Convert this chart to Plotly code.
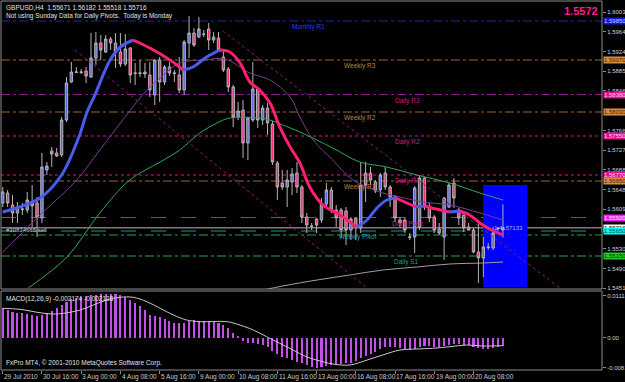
import plotly.graph_objects as go

# ---------------- data ----------------
date_bars = [0, 8, 16, 24, 32, 40, 48, 56, 64, 72, 80, 88, 96]
date_labels = ["29 Jul 2010", "30 Jul 16:00", "3 Aug 00:00", "4 Aug 08:00", "5 Aug 16:00",
               "9 Aug 00:00", "10 Aug 08:00", "11 Aug 16:00", "13 Aug 00:00", "16 Aug 08:00",
               "17 Aug 16:00", "19 Aug 00:00", "20 Aug 08:00"]

opens = [1.5621, 1.5641, 1.5617, 1.5601, 1.5608, 1.5607, 1.5621, 1.5621, 1.5591, 1.5687,
         1.5725, 1.5721, 1.5717, 1.5787, 1.5863, 1.5882, 1.5882, 1.5885, 1.5873, 1.5911,
         1.5941, 1.5923, 1.5949, 1.5941, 1.5923, 1.5899, 1.5931, 1.5880, 1.5880, 1.5883,
         1.5877, 1.5837, 1.5907, 1.5863, 1.5893, 1.5880, 1.5877, 1.5847, 1.5941, 1.5961,
         1.5953, 1.5958, 1.5969, 1.5947, 1.5951, 1.5913, 1.5889, 1.5853, 1.5793, 1.5807,
         1.5741, 1.5787, 1.5849, 1.5787, 1.5811, 1.5779, 1.5701, 1.5661, 1.5653, 1.5663,
         1.5681, 1.5653, 1.5593, 1.5574, 1.5589, 1.5587, 1.5619, 1.5647, 1.5607, 1.5607,
         1.5605, 1.5567, 1.5591, 1.5571, 1.5681, 1.5681, 1.5663, 1.5647, 1.5681, 1.5653,
         1.5633, 1.5587, 1.5587, 1.5552, 1.5553, 1.5573, 1.5671, 1.5611, 1.5593, 1.5569,
         1.5553, 1.5613, 1.5661, 1.5607, 1.5597, 1.5573, 1.5567, 1.5523, 1.5511, 1.5532,
         1.5531, 1.5570, 1.55671]
highs = [1.5653, 1.5647, 1.5637, 1.5623, 1.5621, 1.5643, 1.5657, 1.5633, 1.5721, 1.5703,
         1.5733, 1.5731, 1.5793, 1.5873, 1.5903, 1.5893, 1.5889, 1.5893, 1.5961, 1.5963,
         1.5957, 1.5957, 1.5953, 1.5961, 1.5961, 1.5959, 1.5933, 1.5901, 1.5907, 1.5901,
         1.5903, 1.5907, 1.5913, 1.5897, 1.5903, 1.5887, 1.5913, 1.5947, 1.5995, 1.5971,
         1.5993, 1.5967, 1.5981, 1.5963, 1.5963, 1.5927, 1.5893, 1.5857, 1.5823, 1.5827,
         1.5793, 1.5903, 1.5851, 1.5817, 1.5821, 1.5785, 1.5705, 1.5687, 1.5687, 1.5691,
         1.5703, 1.5657, 1.5601, 1.5581, 1.5591, 1.5631, 1.5661, 1.5653, 1.5617, 1.5611,
         1.5613, 1.5593, 1.5593, 1.5703, 1.5703, 1.5693, 1.5667, 1.5681, 1.5693, 1.5657,
         1.5637, 1.5593, 1.5591, 1.5561, 1.5655, 1.5677, 1.5673, 1.5621, 1.5597, 1.5581,
         1.5633, 1.5661, 1.5671, 1.5611, 1.5601, 1.5581, 1.5571, 1.5581, 1.5553, 1.5541,
         1.5573, 1.5573, 1.56182]
lows = [1.5613, 1.5613, 1.5581, 1.5581, 1.5597, 1.5601, 1.5573, 1.5553, 1.5581, 1.5677,
        1.5693, 1.5713, 1.5713, 1.5783, 1.5861, 1.5881, 1.5879, 1.5861, 1.5871, 1.5897,
        1.5907, 1.5921, 1.5927, 1.5891, 1.5893, 1.5895, 1.5861, 1.5857, 1.5873, 1.5871,
        1.5833, 1.5817, 1.5823, 1.5857, 1.5875, 1.5863, 1.5841, 1.5837, 1.5911, 1.5933,
        1.5951, 1.5953, 1.5927, 1.5941, 1.5923, 1.5883, 1.5843, 1.5773, 1.5787, 1.5711,
        1.5707, 1.5783, 1.5771, 1.5777, 1.5757, 1.5697, 1.5627, 1.5647, 1.5613, 1.5637,
        1.5641, 1.5581, 1.5561, 1.5567, 1.5561, 1.5581, 1.5613, 1.5601, 1.5573, 1.5551,
        1.5537, 1.5547, 1.5547, 1.5561, 1.5623, 1.5657, 1.5641, 1.5633, 1.5647, 1.5613,
        1.5583, 1.5573, 1.5561, 1.5547, 1.5521, 1.5567, 1.5607, 1.5583, 1.5561, 1.5557,
        1.5507, 1.5611, 1.5611, 1.5577, 1.5563, 1.5565, 1.5521, 1.5461, 1.5473, 1.5527,
        1.5527, 1.5565, 1.55518]
closes = [1.5643, 1.5621, 1.5601, 1.5613, 1.5609, 1.5627, 1.5615, 1.5593, 1.5693, 1.5695,
          1.5719, 1.5715, 1.5787, 1.5861, 1.5883, 1.5883, 1.5883, 1.5875, 1.5911, 1.5941,
          1.5927, 1.5949, 1.5941, 1.5923, 1.5899, 1.5929, 1.5877, 1.5881, 1.5881, 1.5879,
          1.5847, 1.5907, 1.5863, 1.5893, 1.5881, 1.5881, 1.5847, 1.5943, 1.5961, 1.5937,
          1.5969, 1.5959, 1.5947, 1.5953, 1.5927, 1.5887, 1.5853, 1.5793, 1.5805, 1.5741,
          1.5791, 1.5849, 1.5787, 1.5811, 1.5781, 1.5703, 1.5653, 1.5653, 1.5667, 1.5679,
          1.5653, 1.5593, 1.5577, 1.5575, 1.5577, 1.5619, 1.5647, 1.5607, 1.5591, 1.5567,
          1.5567, 1.5589, 1.5573, 1.5657, 1.5657, 1.5667, 1.5645, 1.5677, 1.5653, 1.5633,
          1.5591, 1.5581, 1.5567, 1.5553, 1.5651, 1.5671, 1.5613, 1.5591, 1.5567, 1.5561,
          1.5631, 1.5657, 1.5631, 1.5591, 1.5571, 1.5567, 1.5523, 1.5511, 1.5533, 1.5533,
          1.5561, 1.5571, 1.55716]

# thick coloured moving average (sampled points: bar index, price)
ma_fast_x = [0, 7.6, 12.0, 15.6, 17.2, 18.8, 21.9, 24.0, 26.6, 30.0, 34.1, 36.8, 38.8, 41.6,
             44.3, 46.3, 48.4, 50.4, 52.4, 54.5, 56.5, 58.6, 60.6, 62.6, 65.3, 68.8, 72.2,
             74.3, 76.3, 78.3, 80.2, 82.4, 84.4, 86.0, 87.5, 91.2, 93.2, 95.2, 97.3, 99.3, 102]
ma_fast_y = [1.5603, 1.5631, 1.5677, 1.5755, 1.5803, 1.5837, 1.5907, 1.5933, 1.5947, 1.5931,
             1.5907, 1.5887, 1.5893, 1.5913, 1.5927, 1.5923, 1.5901, 1.5863, 1.5847, 1.5821,
             1.5773, 1.5733, 1.5701, 1.5653, 1.5617, 1.5597, 1.5573, 1.5587, 1.5611, 1.5627,
             1.5631, 1.5621, 1.5613, 1.5615, 1.5611, 1.5603, 1.5605, 1.5597, 1.5581, 1.5569, 1.5557]

ma_purple_x = [0, 2.9, 7.6, 15.1, 19.8, 29.4, 32.1, 36.1, 41.2, 45.3, 50.4, 54.5, 58.6, 60.6,
               63.3, 67.3, 71.4, 77.5, 81.0, 85.7, 91.2, 97.3, 102]
ma_purple_y = [1.5523, 1.5551, 1.5597, 1.5667, 1.5727, 1.5847, 1.5871, 1.5901, 1.5907, 1.5909,
               1.5881, 1.5867, 1.5833, 1.5793, 1.5747, 1.5707, 1.5667, 1.5641, 1.5633, 1.5623,
               1.5617, 1.5601, 1.5587]

ma_green_x = [5.2, 13.1, 19.8, 25.9, 32.1, 36.1, 40.2, 43.7, 46.3, 52.4, 54.5, 57.1, 60.6,
              67.3, 72.8, 78.3, 84.4, 91.2, 97.3, 102]
ma_green_y = [1.5451, 1.5513, 1.5601, 1.5667, 1.5703, 1.5727, 1.5761, 1.5781, 1.5791, 1.5791,
              1.5787, 1.5777, 1.5763, 1.5731, 1.5703, 1.5693, 1.5677, 1.5661, 1.5641, 1.5627]

ma_gray_x = [53.1, 57.1, 64.1, 70.8, 77.5, 84.4, 91.2, 97.9, 102]
ma_gray_y = [1.5447, 1.5455, 1.5467, 1.5477, 1.5487, 1.5493, 1.5499, 1.5501, 1.5503]

# trend channel lines (start bar, start price, end bar, end price)
channel_lines = [(44.9, 1.5965, 113.6, 1.5451), (14.7, 1.5927, 74.3, 1.5451)]

# pivot levels
level_names = ["Monthly R1", "Weekly R3", "Daily R3", "Weekly R2", "Daily R2", "Daily R1",
               "Weekly R1", "Daily Pivot", "Weekly Pivot", "Daily S1"]
level_prices = [1.5985, 1.5907, 1.5838, 1.5803, 1.5755, 1.5677, 1.5665, 1.5592, 1.5565, 1.5515]
level_label_bar = [58.6, 69.2, 79.6, 69.2, 79.6, 79.6, 69.2, 79.0, 68.2, 79.4]

bid_price = 1.55716
order_price = 1.5557
order_text = "#30834665 sell"
box = (97.96, 107.0, 1.5453, 1.5657)
box_text = "1.4 .57133"

price_ticks = [1.6003, 1.5964, 1.5924, 1.5885, 1.5846, 1.5766, 1.5727, 1.5688, 1.5648,
               1.5609, 1.5530, 1.5490, 1.5451]

macd_hist = [0.00787, 0.00742, 0.00697, 0.00671, 0.00653, 0.00626, 0.00608, 0.00581, 0.00608, 0.00653,
             0.00724, 0.00787, 0.00876, 0.00966, 0.01028, 0.01055, 0.01100, 0.01126, 0.01144, 0.01144,
             0.01162, 0.01171, 0.01171, 0.01162, 0.01144, 0.01100, 0.01010, 0.00921, 0.00849, 0.00742,
             0.00608, 0.00581, 0.00563, 0.00492, 0.00447, 0.00402, 0.00384, 0.00402, 0.00456, 0.00474,
             0.00456, 0.00447, 0.00447, 0.00429, 0.00402, 0.00340, 0.00250, 0.00134, 0.00045, -0.00089,
             -0.00134, -0.00152, -0.00170, -0.00197, -0.00259, -0.00349, -0.00438, -0.00510, -0.00554, -0.00599,
             -0.00644, -0.00688, -0.00733, -0.00778, -0.00805, -0.00778, -0.00760, -0.00733, -0.00706, -0.00706,
             -0.00688, -0.00671, -0.00617, -0.00554, -0.00492, -0.00438, -0.00375, -0.00313, -0.00259, -0.00241,
             -0.00259, -0.00286, -0.00313, -0.00331, -0.00313, -0.00259, -0.00224, -0.00224, -0.00241, -0.00241,
             -0.00224, -0.00197, -0.00170, -0.00170, -0.00197, -0.00197, -0.00241, -0.00286, -0.00313, -0.00313,
             -0.00286, -0.00259, -0.002174]
signal_x = [0, 3.5, 7.6, 10.3, 12.4, 15.8, 18.5, 21.2, 23.9, 26.6, 29.4, 32.1, 34.8, 37.5, 40.2,
            45.7, 47.7, 51.1, 53.8, 56.5, 59.2, 61.9, 64.0, 67.3, 70.8, 74.3, 77.5, 81.0, 84.4,
            87.7, 91.2, 94.6, 97.9, 102]
signal_y = [0.00788, 0.00761, 0.00670, 0.00635, 0.00654, 0.00743, 0.00877, 0.01011, 0.01083, 0.01083,
            0.00965, 0.00788, 0.00609, 0.00475, 0.00430, 0.00430, 0.00367, 0.00206, 0.00027, -0.00150,
            -0.00330, -0.00509, -0.00598, -0.00705, -0.00732, -0.00598, -0.00464, -0.00330, -0.00303,
            -0.00284, -0.00241, -0.00196, -0.00223, -0.002128]

# ---------------- figure ----------------
FONT = "Liberation Sans"
bars = list(range(len(opens)))
fig = go.Figure()

fig.add_trace(go.Candlestick(
    x=bars, open=opens, high=highs, low=lows, close=closes,
    increasing=dict(line=dict(color="#b4b4b4", width=1), fillcolor="#5a6ae8"),
    decreasing=dict(line=dict(color="#b4b4b4", width=1), fillcolor="#f0307f"),
    whiskerwidth=0, showlegend=False, xaxis="x", yaxis="y"))

fig.add_trace(go.Scatter(x=ma_purple_x, y=ma_purple_y, mode="lines",
                         line=dict(color="#7a3c96", width=1, shape="spline"), showlegend=False))
fig.add_trace(go.Scatter(x=ma_green_x, y=ma_green_y, mode="lines",
                         line=dict(color="#2eaa55", width=1, shape="spline"), showlegend=False))
fig.add_trace(go.Scatter(x=ma_gray_x, y=ma_gray_y, mode="lines",
                         line=dict(color="#a0a0a0", width=1, shape="spline"), showlegend=False))

for x0, y0, x1, y1 in channel_lines:
    fig.add_trace(go.Scatter(x=[x0, x1], y=[y0, y1], mode="lines",
                             line=dict(color="#8c1c72", width=1, dash="dot"), showlegend=False))

# thick MA coloured by slope
seg_x, seg_y, seg_up = [ma_fast_x[0]], [ma_fast_y[0]], None
for k in range(1, len(ma_fast_x)):
    up = ma_fast_y[k] >= ma_fast_y[k - 1]
    if seg_up is not None and up != seg_up:
        fig.add_trace(go.Scatter(x=seg_x, y=seg_y, mode="lines", showlegend=False,
                                 line=dict(color="#4a5cf0" if seg_up else "#ff1e72", width=3, shape="spline")))
        seg_x, seg_y = [ma_fast_x[k - 1]], [ma_fast_y[k - 1]]
    seg_up = up
    seg_x.append(ma_fast_x[k])
    seg_y.append(ma_fast_y[k])
fig.add_trace(go.Scatter(x=seg_x, y=seg_y, mode="lines", showlegend=False,
                         line=dict(color="#4a5cf0" if seg_up else "#ff1e72", width=3, shape="spline")))

# MACD
fig.add_trace(go.Bar(x=bars, y=macd_hist, width=0.42, marker=dict(color="#c44ee8", line=dict(width=0)),
                     showlegend=False, xaxis="x", yaxis="y2"))
fig.add_trace(go.Scatter(x=signal_x, y=signal_y, mode="lines", line=dict(color="#c8c8c8", width=1, shape="spline"),
                         showlegend=False, xaxis="x", yaxis="y2"))

# ---------------- shapes ----------------
shapes = []
shapes.append(dict(type="rect", xref="x", yref="y", x0=box[0], x1=box[1], y0=box[2], y1=box[3],
                   fillcolor="#0000ff", line=dict(width=0), layer="below"))
level_style = {
    "Monthly R1": ("#2424a8", "dashdot"), "Weekly R3": ("#a0662c", "dashdot"),
    "Daily R3": ("#861d86", "dashdot"), "Weekly R2": ("#a0662c", "dashdot"),
    "Daily R2": ("#e0128a", "dot"), "Daily R1": ("#e0128a", "dot"),
    "Weekly R1": ("#a0662c", "dashdot"), "Daily Pivot": ("#b424b4", "longdash"),
    "Weekly Pivot": ("#2a8ca8", "longdash"), "Daily S1": ("#24a84a", "dashdot"),
}
for nm, p in zip(level_names, level_prices):
    c, d = level_style[nm]
    shapes.append(dict(type="line", xref="paper", yref="y", x0=0, x1=1, y0=p, y1=p,
                       line=dict(color=c, width=1, dash=d), layer="below"))
shapes.append(dict(type="line", xref="paper", yref="y", x0=0, x1=1, y0=bid_price, y1=bid_price,
                   line=dict(color="#7c7c7c", width=1.5), layer="below"))
shapes.append(dict(type="line", xref="paper", yref="y", x0=0, x1=1, y0=order_price, y1=order_price,
                   line=dict(color="#2aa03c", width=1, dash="dashdot"), layer="below"))
MAIN_BOT, MACD_TOP = 0.2195, 0.2141
shapes.append(dict(type="rect", xref="paper", yref="paper", x0=0, x1=1, y0=MAIN_BOT, y1=1,
                   line=dict(color="#8c8c8c", width=1)))
shapes.append(dict(type="rect", xref="paper", yref="paper", x0=0, x1=1, y0=0, y1=MACD_TOP,
                   line=dict(color="#8c8c8c", width=1)))

# ---------------- annotations ----------------
ann = []
label_color = {
    "Monthly R1": "#2a3cff", "Weekly R3": "#c08040", "Daily R3": "#d01c90", "Weekly R2": "#c08040",
    "Daily R2": "#d01c90", "Daily R1": "#d01c90", "Weekly R1": "#c08040", "Daily Pivot": "#d01c90",
    "Weekly Pivot": "#20a0a8", "Daily S1": "#20a080",
}
for nm, p, b in zip(level_names, level_prices, level_label_bar):
    ann.append(dict(x=b, y=p, xref="x", yref="y", text=nm, showarrow=False, xanchor="left", yanchor="top",
                    font=dict(family=FONT, size=6.5, color=label_color[nm])))

tag_style = {
    "Monthly R1": ("#0c18e6", "#c8d0ff"), "Weekly R3": ("#d98c3f", "#402000"), "Daily R3": ("#e0148c", "#ffd0f0"),
    "Weekly R2": ("#d98c3f", "#402000"), "Daily R2": ("#e0148c", "#ffd0f0"), "Daily R1": ("#e0148c", "#ffd0f0"),
    "Weekly R1": ("#d98c3f", "#402000"), "Daily Pivot": ("#f020f0", "#ffe0ff"),
    "Weekly Pivot": ("#00ffff", "#004040"), "Daily S1": ("#22cc22", "#003000"),
}
tag_items = [("bid", bid_price)] + list(zip(level_names, level_prices))
for nm, p in tag_items:
    bg, fg = tag_style.get(nm, ("#ffffff", "#000000"))
    ann.append(dict(x=1, y=p, xref="paper", yref="y", text=f"{p:.5f}", showarrow=False, xanchor="left",
                    xshift=1, bgcolor=bg, borderpad=0, font=dict(family=FONT, size=6, color=fg)))

for b, t in zip(date_bars, date_labels):
    ann.append(dict(x=b - 0.15, y=0, xref="x", yref="paper", text=t, showarrow=False, xanchor="left",
                    yanchor="top", yshift=-1, font=dict(family=FONT, size=6.5, color="#c8c8c8")))

ann.append(dict(x=0.005, y=1, xref="paper", yref="paper", xanchor="left", yanchor="top", showarrow=False,
                align="left", yshift=-1,
                text="GBPUSD,H4  1.55671 1.56182 1.55518 1.55716<br>Not using Sunday Data for Daily Pivots.  Today is Monday",
                font=dict(family=FONT, size=6.5, color="#e0e0e0")))
ann.append(dict(x=0.997, y=1, xref="paper", yref="paper", xanchor="right", yanchor="top", showarrow=False,
                yshift=-2, text=f"<b>{bid_price:.4f}</b>", font=dict(family=FONT, size=11, color="#ff1e8c")))
ann.append(dict(x=0.2, y=order_price, xref="x", yref="y", xanchor="left", yanchor="bottom", showarrow=False,
                text=order_text, font=dict(family=FONT, size=6, color="#c8c8c8")))
ann.append(dict(x=box[0] + 1.8, y=bid_price, xref="x", yref="y", xanchor="left", yanchor="middle",
                showarrow=False, text=box_text, font=dict(family=FONT, size=6, color="#a8b8d8")))
ann.append(dict(x=0.005, y=MACD_TOP, xref="paper", yref="paper", xanchor="left", yanchor="top", showarrow=False,
                yshift=-2, text=f"MACD(12,26,9) {macd_hist[-1]:.6f} {signal_y[-1]:.6f}",
                font=dict(family=FONT, size=6.5, color="#e0e0e0")))
ann.append(dict(x=0.005, y=0, xref="paper", yref="paper", xanchor="left", yanchor="bottom", showarrow=False,
                yshift=1, text="FxPro MT4, © 2001-2010 MetaQuotes Software Corp.",
                font=dict(family=FONT, size=6.5, color="#e0e0e0")))

fig.update_layout(
    width=625, height=382, margin=dict(l=1, r=23, t=1, b=12, autoexpand=False),
    paper_bgcolor="#000000", plot_bgcolor="#000000", showlegend=False, bargap=0,
    shapes=shapes, annotations=ann,
    xaxis=dict(range=[-0.35, 122.2], anchor="y2", showgrid=False, zeroline=False, showticklabels=False,
               tickvals=date_bars, ticks="outside", ticklen=3, tickcolor="#8c8c8c", automargin=False,
               rangeslider=dict(visible=False), fixedrange=True),
    yaxis=dict(domain=[MAIN_BOT, 1], range=[1.5449, 1.6025], side="right", anchor="x", showgrid=False,
               zeroline=False, tickvals=price_ticks, ticktext=[f"{v:.5f}" for v in price_ticks],
               ticks="outside", ticklen=3, tickcolor="#8c8c8c", automargin=False,
               tickfont=dict(family=FONT, size=6, color="#d0d0d0")),
    yaxis2=dict(domain=[0, MACD_TOP], range=[-0.00866, 0.01252], side="right", anchor="x", showgrid=False,
                zeroline=False, tickvals=[0.01118, 0, -0.0081], ticktext=["0.01118", "0.00", "-0.0081"],
                ticks="outside", ticklen=3, tickcolor="#8c8c8c", automargin=False,
                tickfont=dict(family=FONT, size=6, color="#d0d0d0")),
)

fig.write_html("out.html")
